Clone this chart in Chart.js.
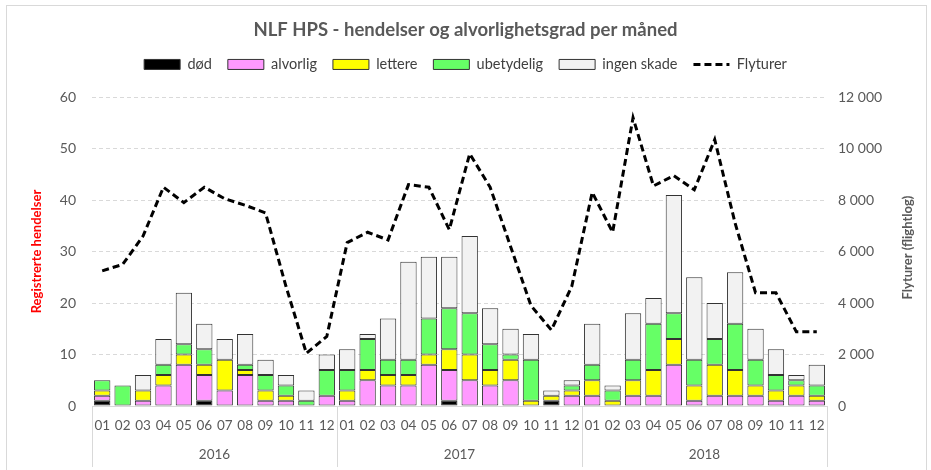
<!DOCTYPE html>
<html>
<head>
<meta charset="utf-8">
<script src="https://cdn.jsdelivr.net/npm/chart.js@4.4.1/dist/chart.umd.min.js"></script>
<style>
  html, body { margin: 0; padding: 0; background: #fff; }
  #wrap { width: 931px; height: 470px; }
</style>
</head>
<body>
<div id="wrap"><canvas id="chart" width="931" height="470"></canvas></div>
<script>
// months per year, 2016-2018
const years = ["2016", "2017", "2018"];
const months = ["01", "02", "03", "04", "05", "06", "07", "08", "09", "10", "11", "12"];

// registrerte hendelser per alvorlighetsgrad
const dod = [1, 0, 0, 0, 0, 1, 0, 0, 0, 0, 0, 0,
             0, 0, 0, 0, 0, 1, 0, 0, 0, 0, 1, 0,
             0, 0, 0, 0, 0, 0, 0, 0, 0, 0, 0, 0];
const alvorlig = [1, 0, 1, 4, 8, 5, 3, 6, 1, 1, 0, 2,
                  1, 5, 4, 4, 8, 6, 5, 4, 5, 0, 0, 2,
                  2, 0, 2, 2, 8, 1, 2, 2, 2, 1, 2, 1];
const lettere = [1, 0, 2, 2, 2, 2, 6, 1, 2, 1, 0, 0,
                 2, 2, 2, 2, 2, 4, 5, 3, 4, 1, 1, 1,
                 3, 1, 3, 5, 5, 3, 6, 5, 2, 2, 2, 1];
const ubetydelig = [2, 4, 0, 2, 2, 3, 0, 1, 3, 2, 1, 5,
                    4, 6, 3, 3, 7, 8, 8, 5, 1, 8, 0, 1,
                    3, 2, 4, 9, 5, 5, 5, 9, 5, 3, 1, 2];
const ingenSkade = [0, 0, 3, 5, 10, 5, 4, 6, 3, 2, 2, 3,
                    4, 1, 8, 19, 12, 10, 15, 7, 5, 5, 1, 1,
                    8, 1, 9, 5, 23, 16, 7, 10, 6, 5, 1, 4];

// flyturer fra flightlog
const flyturer = [5250, 5500, 6600, 8500, 7900, 8500, 8050, 7800, 7500, 4650, 2050, 2700,
                  6350, 6750, 6450, 8600, 8500, 6850, 9800, 8500, 6200, 3900, 2950, 4650,
                  8300, 6750, 11200, 8550, 8950, 8400, 10350, 7100, 4400, 4400, 2880, 2880];

const labels = years.flatMap(() => months);

Chart.defaults.font.family = "Lato, 'Liberation Sans', sans-serif";
Chart.defaults.color = "#595959";

const edge = "#333333";
const lineGrey = "#d9d9d9";
const rightTitle = "Flyturer (flightlog)";

function bar(label, data, color) {
  return {
    type: "bar",
    label: label,
    data: data,
    backgroundColor: color,
    borderColor: edge,
    borderWidth: 1,
    borderSkipped: false,
    pointStyle: "rect",
    yAxisID: "y",
    order: 1,
  };
}

function spaced(v) {
  return String(v).replace(/\B(?=(\d{3})+(?!\d))/g, " ");
}

// year separators under the axis, the outer frame and the right axis title
const frame = {
  id: "frame",
  beforeDraw(chart) {
    const c = chart.ctx;
    c.save();
    c.strokeStyle = lineGrey;
    c.lineWidth = 1;
    c.strokeRect(6.5, 5.5, 920, 470);
    c.restore();
  },
  afterDraw(chart) {
    const x = chart.scales.x;
    const c = chart.ctx;
    const area = chart.chartArea;
    c.save();
    c.strokeStyle = lineGrey;
    c.lineWidth = 1;
    for (let i = 0; i <= years.length; i++) {
      const px = Math.round(x.getPixelForValue(i * months.length - 0.5)) + 0.5;
      c.beginPath();
      c.moveTo(px, area.bottom);
      c.lineTo(px, 467);
      c.stroke();
    }
    // excel draws the secondary title reading upwards
    c.translate(908, (area.top + area.bottom) / 2 - 4);
    c.rotate(-Math.PI / 2);
    c.fillStyle = "#595959";
    c.font = "bold 13px Lato, 'Liberation Sans', sans-serif";
    c.textAlign = "center";
    c.textBaseline = "middle";
    c.fillText(rightTitle, 0, 0);
    c.restore();
  },
};

const config = {
  data: {
    labels: labels,
    datasets: [
      bar("død", dod, "#000000"),
      bar("alvorlig", alvorlig, "#ff99ff"),
      bar("lettere", lettere, "#ffff00"),
      bar("ubetydelig", ubetydelig, "#66ff66"),
      bar("ingen skade", ingenSkade, "#f2f2f2"),
      {
        type: "line",
        label: "Flyturer",
        data: flyturer,
        borderColor: "#000000",
        backgroundColor: "#000000",
        borderWidth: 3,
        borderDash: [7, 4],
        pointRadius: 0,
        pointStyle: "line",
        tension: 0,
        yAxisID: "y1",
        order: 0,
      },
    ],
  },
  options: {
    responsive: false,
    animation: false,
    datasets: { bar: { barPercentage: 0.8, categoryPercentage: 1 } },
    layout: { padding: { top: 8, left: 5, right: 5, bottom: 0 } },
    plugins: {
      tooltip: { enabled: false },
      title: {
        display: true,
        text: "NLF HPS - hendelser og alvorlighetsgrad per måned",
        color: "#595959",
        font: { size: 18.5, weight: "bold" },
        padding: { top: 11, bottom: 0 },
      },
      // empty spacer between legend and plot
      subtitle: {
        display: true,
        text: "",
        weight: 500,
        font: { size: 12, lineHeight: 1.2 },
        padding: { top: 0, bottom: 1 },
      },
      legend: {
        position: "top",
        labels: {
          usePointStyle: true,
          pointStyleWidth: 36,
          boxHeight: 10,
          padding: 16,
          color: "#404040",
          font: { size: 14.5 },
          sort: (a, b) => a.datasetIndex - b.datasetIndex,
          generateLabels: (chart) => {
            const items = Chart.defaults.plugins.legend.labels.generateLabels(chart);
            items.forEach((it) => {
              const ds = chart.data.datasets[it.datasetIndex];
              if (ds.type === "line") it.lineDash = ds.borderDash;
            });
            return items;
          },
        },
      },
    },
    scales: {
      x: {
        stacked: true,
        grid: { display: false, drawTicks: false },
        border: { display: true, color: lineGrey },
        ticks: { padding: 12, font: { size: 13.5 }, color: "#595959", maxRotation: 0, autoSkip: false },
        afterFit: (s) => { s.height = 35; },
      },
      years: {
        type: "category",
        position: "bottom",
        labels: years,
        offset: true,
        grid: { display: false, drawTicks: false },
        border: { display: false },
        ticks: { padding: 6, font: { size: 13.5 }, color: "#595959" },
        afterFit: (s) => { s.height = 29; },
      },
      y: {
        stacked: true,
        position: "left",
        min: 0,
        max: 60,
        ticks: { stepSize: 10, padding: 16, font: { size: 14 }, color: "#595959" },
        grid: { color: lineGrey, drawTicks: false },
        border: { display: false, dash: [4, 3] },
        title: {
          display: true,
          text: "Registrerte hendelser",
          color: "#ff0000",
          font: { size: 13, weight: "bold" },
          padding: { top: 24, bottom: 0 },
        },
        afterFit: (s) => { s.width = 87; },
      },
      y1: {
        position: "right",
        min: 0,
        max: 12000,
        ticks: { stepSize: 2000, padding: 11, font: { size: 14 }, color: "#595959", callback: (v) => spaced(v) },
        grid: { drawOnChartArea: false, drawTicks: false },
        border: { display: false },
        afterFit: (s) => { s.width = 99; },
      },
    },
  },
  plugins: [frame],
};

const ctx = document.getElementById("chart");
window.myChart = new Chart(ctx, config);
</script>
</body>
</html>
